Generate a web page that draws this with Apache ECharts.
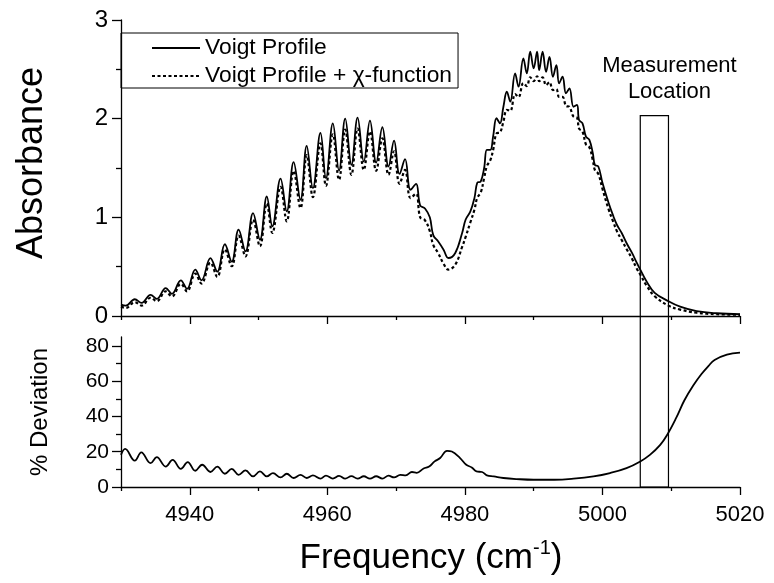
<!DOCTYPE html>
<html><head><meta charset="utf-8">
<script src="https://cdn.jsdelivr.net/npm/echarts@6/dist/echarts.min.js"></script>
<style>html,body{margin:0;padding:0;background:#fff}#c{width:774px;height:583px}</style>
</head><body><div id="c"></div>
<script>
// ---- data ----
const absFreq = [4930.0,4930.7,4932.0,4933.0,4934.3,4935.2,4936.5,4937.4,4938.7,4939.6,4940.8,4941.7,4943.0,4944.0,4945.1,4946.1,4947.1,4948.1,4949.2,4950.2,4951.2,4952.0,4953.2,4954.1,4955.1,4956.1,4957.0,4957.9,4959.0,4959.8,4960.8,4961.7,4962.6,4963.5,4964.4,4965.3,4966.2,4967.1,4968.0,4968.9,4969.7,4970.5,4971.3,4972.1,4972.9,4973.5,4974.2,4974.9,4975.4,4976.1,4976.9,4977.6,4978.6,4979.6,4980.1,4980.8,4981.4,4981.8,4982.3,4982.8,4983.2,4983.7,4984.1,4984.6,4985.1,4985.6,4986.1,4986.6,4987.3,4987.8,4988.5,4989.0,4989.5,4990.0,4990.5,4990.8,4991.3,4991.8,4992.3,4992.8,4993.3,4993.7,4994.2,4994.7,4995.2,4995.8,4996.3,4996.6,4997.1,4997.6,4998.1,4998.6,4998.9,4999.4,5000.0,5000.9,5001.6,5002.1,5002.8,5003.5,5004.3,5005.0,5005.5,5006.4,5007.6,5009.6,5011.3,5013.7,5016.6,5020.0];
const voigt = [0.115,0.105,0.170,0.133,0.215,0.174,0.283,0.224,0.362,0.275,0.470,0.362,0.586,0.450,0.727,0.551,0.875,0.655,1.043,0.773,1.211,0.908,1.392,1.060,1.560,1.178,1.725,1.296,1.855,1.397,1.953,1.474,2.000,1.532,2.010,1.565,1.980,1.555,1.913,1.515,1.778,1.440,1.590,1.279,1.340,1.120,1.090,1.000,0.820,0.757,0.672,0.588,0.639,0.841,0.976,1.060,1.200,1.350,1.363,1.500,1.684,1.684,1.818,2.004,1.953,2.121,2.273,2.172,2.459,2.324,2.611,2.459,2.678,2.510,2.678,2.492,2.678,2.475,2.627,2.425,2.543,2.358,2.425,2.257,2.307,2.121,2.139,1.987,1.953,1.818,1.785,1.650,1.532,1.515,1.350,1.145,1.009,0.925,0.841,0.740,0.639,0.538,0.470,0.352,0.235,0.150,0.095,0.049,0.028,0.020];
const voigtChi = [0.095,0.082,0.140,0.106,0.185,0.150,0.250,0.198,0.325,0.250,0.430,0.329,0.540,0.396,0.675,0.504,0.815,0.605,0.975,0.706,1.140,0.841,1.310,0.959,1.470,1.094,1.630,1.205,1.750,1.320,1.840,1.380,1.890,1.431,1.900,1.481,1.870,1.471,1.800,1.431,1.670,1.340,1.480,1.195,1.240,1.000,0.970,0.860,0.720,0.640,0.530,0.470,0.520,0.700,0.800,0.950,1.080,1.200,1.250,1.400,1.520,1.580,1.680,1.850,1.860,1.970,2.090,2.080,2.250,2.220,2.360,2.330,2.420,2.380,2.430,2.380,2.420,2.340,2.370,2.290,2.300,2.220,2.220,2.130,2.120,2.020,2.010,1.900,1.870,1.740,1.710,1.580,1.480,1.440,1.290,1.080,0.950,0.860,0.770,0.680,0.580,0.480,0.420,0.310,0.200,0.105,0.065,0.033,0.018,0.012];
const devFreq = [4930.0,4930.6,4932.0,4932.95,4934.3,4935.2,4936.5,4937.5,4938.7,4939.7,4940.8,4941.8,4943.0,4944.0,4945.1,4946.1,4947.1,4948.1,4949.2,4950.2,4951.2,4952.1,4953.2,4954.1,4955.1,4956.1,4957.0,4957.9,4959.0,4959.8,4960.8,4961.7,4962.6,4963.5,4964.4,4965.3,4966.2,4967.1,4968.0,4968.9,4969.7,4970.6,4971.4,4972.3,4973.0,4974.0,4974.8,4975.6,4976.4,4977.4,4978.1,4979.3,4980.2,4981.0,4981.7,4982.5,4983.2,4984.2,4985.6,4987.5,4990.0,4993.0,4995.8,4998.7,5001.1,5003.5,5005.5,5006.9,5008.4,5009.4,5010.7,5011.9,5013.2,5014.4,5015.4,5016.3,5018.1,5020.0];
const devPct = [18.2,21.6,14.9,19.6,13.5,16.9,11.6,15.4,10.3,14.1,9.2,12.6,8.5,11.6,7.5,10.3,6.9,9.4,6.0,8.8,6.0,7.9,5.4,7.5,5.1,6.9,5.1,6.6,4.8,6.4,4.8,6.3,4.7,6.2,4.7,6.1,4.7,6.1,4.8,6.4,5.4,6.9,6.6,8.5,8.0,10.5,11.6,14.5,16.4,20.5,20.1,16.4,12.6,11.1,8.8,8.5,6.6,6.0,5.1,4.5,4.1,4.1,4.7,6.0,7.9,10.7,14.5,18.2,23.9,29.5,39.0,49.0,57.5,64.0,68.5,72.0,75.0,76.2];
const xMajor = [4940, 4960, 4980, 5000, 5020];
const xMinor = [4930, 4950, 4970, 4990, 5010];
const devMajor = [0, 20, 40, 60, 80];
const devMinor = [10, 30, 50, 70];
const seriesNames = ['Voigt Profile', 'Voigt Profile + \u03c7-function'];
const measureBand = [5005.5, 5009.6]; // frequency range of the measurement box
const measureTop = 2.03;              // absorbance of the box top

const FONT = '"Liberation Sans", Arial, Helvetica, sans-serif';
const zip = (a, b) => a.map((v, i) => [v, b[i]]);

const chart = echarts.init(document.getElementById('c'), null, {renderer: 'canvas'});
const black = '#000';
const axisLine = {show: true, lineStyle: {color: black, width: 1.3}};

function xMain(grid, labels) {
  return {type: 'value', gridIndex: grid, min: 4930, max: 5020, position: 'bottom',
    axisLine: axisLine,
    axisTick: {show: true, inside: false, length: 8, lineStyle: {color: black, width: 1.3}, customValues: xMajor},
    axisLabel: labels ? {show: true, customValues: xMajor, formatter: v => String(v), fontSize: 22, color: black, fontFamily: FONT, margin: 17} : {show: false},
    splitLine: {show: false}};
}
function xMin(grid) {
  return {type: 'value', gridIndex: grid, min: 4930, max: 5020, position: 'bottom',
    axisLine: {show: false},
    axisTick: {show: true, inside: false, length: 4, lineStyle: {color: black, width: 1.3}, customValues: xMinor},
    axisLabel: {show: false}, splitLine: {show: false}};
}

const option = {
  animation: false,
  backgroundColor: '#fff',
  grid: [
    {left: 121, width: 619, top: 20, height: 296},
    {left: 121, width: 619, top: 337, height: 150}
  ],
  xAxis: [xMain(0, false), xMin(0), xMain(1, true), xMin(1)],
  yAxis: [
    {type: 'value', gridIndex: 0, min: 0, max: 3, interval: 1, position: 'left',
      axisLine: axisLine,
      axisTick: {show: true, inside: false, length: 9, lineStyle: {color: black, width: 1.3}},
      minorTick: {show: true, splitNumber: 2, length: 5, lineStyle: {color: black, width: 1.3}},
      axisLabel: {fontSize: 24, color: black, fontFamily: FONT, margin: 13},
      splitLine: {show: false}, minorSplitLine: {show: false}},
    {type: 'value', gridIndex: 1, min: 0, max: 85, position: 'left',
      axisLine: axisLine,
      axisTick: {show: true, inside: false, length: 9, lineStyle: {color: black, width: 1.3}, customValues: devMajor},
      axisLabel: {fontSize: 21, color: black, fontFamily: FONT, margin: 12, customValues: devMajor},
      splitLine: {show: false}},
    {type: 'value', gridIndex: 1, min: 0, max: 85, position: 'left', offset: 0,
      axisLine: {show: false},
      axisTick: {show: true, inside: false, length: 5, lineStyle: {color: black, width: 1.3}, customValues: devMinor},
      axisLabel: {show: false}, splitLine: {show: false}}
  ],
  legend: {
    orient: 'vertical', left: 121, top: 33,
    padding: [3, 6, 0, 30], itemGap: 4, itemWidth: 48, itemHeight: 14,
    borderColor: black, borderWidth: 1, borderRadius: 0,
    itemStyle: {opacity: 0},
    textStyle: {fontSize: 22.8, color: black, fontFamily: FONT, lineHeight: 24},
    data: seriesNames
  },
  series: [
    {name: seriesNames[0], type: 'line', xAxisIndex: 0, yAxisIndex: 0, data: zip(absFreq, voigt),
      symbol: 'none', showSymbol: false, smooth: 0.4, lineStyle: {color: black, width: 1.8}, itemStyle: {color: black}, z: 3},
    {name: seriesNames[1], type: 'line', xAxisIndex: 0, yAxisIndex: 0, data: zip(absFreq, voigtChi),
      symbol: 'none', showSymbol: false, smooth: 0.4, lineStyle: {color: black, width: 2.2, type: [3, 2.5]}, itemStyle: {color: black}, z: 2},
    {name: '% Deviation', type: 'line', xAxisIndex: 2, yAxisIndex: 1, data: zip(devFreq, devPct),
      symbol: 'none', showSymbol: false, smooth: 0.4, lineStyle: {color: black, width: 1.8}, itemStyle: {color: black}}
  ]
};
chart.setOption(option);

// measurement box and titles positioned through the axes' own scales
const pTop = chart.convertToPixel({xAxisIndex: 0, yAxisIndex: 0}, [measureBand[0], measureTop]);
const pBot = chart.convertToPixel({xAxisIndex: 2, yAxisIndex: 1}, [measureBand[1], 0]);
chart.setOption({
  graphic: [
    {type: 'rect', z: 10, shape: {x: pTop[0], y: pTop[1], width: pBot[0] - pTop[0], height: pBot[1] - pTop[1]},
      style: {fill: 'none', stroke: black, lineWidth: 1.2}},
    {type: 'text', z: 10, x: pBot[0] + 1, y: pTop[1] - 11,
      style: {text: 'Measurement\nLocation', fontSize: 22, lineHeight: 26, fontFamily: FONT, fill: black,
        textAlign: 'center', textVerticalAlign: 'bottom'}},
    {type: 'text', x: 32, y: 163, rotation: Math.PI / 2,
      style: {text: 'Absorbance', fontSize: 36, fontFamily: FONT, fill: black, textAlign: 'center', textVerticalAlign: 'middle'}},
    {type: 'text', x: 40, y: 412, rotation: Math.PI / 2,
      style: {text: '% Deviation', fontSize: 24, fontFamily: FONT, fill: black, textAlign: 'center', textVerticalAlign: 'middle'}},
    {type: 'text', x: 431, y: 558,
      style: {text: '{a|Frequency (cm}{s|-1}{a|)}', textAlign: 'center', textVerticalAlign: 'middle', fill: black,
        rich: {a: {fontSize: 35, fontFamily: FONT, lineHeight: 40, fill: black},
               s: {fontSize: 20, fontFamily: FONT, verticalAlign: 'top', lineHeight: 40, fill: black}}}}
  ]
});
</script></body></html>
